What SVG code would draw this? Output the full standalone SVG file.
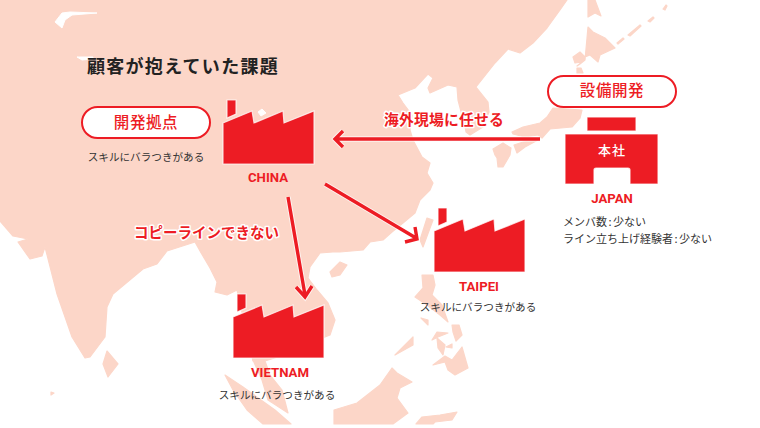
<svg xmlns="http://www.w3.org/2000/svg" xmlns:xlink="http://www.w3.org/1999/xlink" width="760" height="428" viewBox="0 0 760 428">
<style>
.land{fill:#fcd6c8;stroke:#fcd6c8;stroke-width:1.2;stroke-linejoin:round}
.sea{fill:#fff;stroke:#fff;stroke-width:1;stroke-linejoin:round}
.red{fill:#ed1c24;stroke:#fff;stroke-width:1.2;stroke-opacity:.75}
.ln{fill:none;stroke:#ed1c24;stroke-width:3.4}
.lh{fill:none;stroke:#fff;stroke-opacity:.7;stroke-width:5.4}
.pill{fill:#fff;stroke:#ed1c24;stroke-width:2}
text{font-family:"Noto Sans CJK JP","Noto Sans",sans-serif;text-anchor:middle}
.title{font-size:18px;font-weight:700;fill:#222;letter-spacing:1.3px}
.pt{font-size:15.5px;font-weight:500;fill:#ed1c24;letter-spacing:.6px}
.body{font-size:10.6px;fill:#333}
.info{font-size:11px;fill:#333;text-anchor:start}
.city{font-family:Roboto,"Liberation Sans",sans-serif;font-size:13.2px;font-weight:700;fill:#ed1c24}
.halo{font-weight:700;fill:#ed1c24;stroke:#fff;stroke-width:3;paint-order:stroke;stroke-linejoin:round}
</style>
<defs>
<g id="factory">
<path class="red" d="M4-46V-64H13V-50Z"/>
<path class="red" d="M0-41L29-53L31-41L60-53L61-41L91-53V0H0Z"/>
</g>
</defs>
<rect width="760" height="428" fill="#fff"/>
<g id="map">
<path class="land" d="M0 0H567L560 10L547 28L533 43L520 53L508 49L495 63L476 87L488 102L489 112L483 127L470 135L466 132L465 127L458 100L457 87L448 85L430 93L428 88L433 78L428 74L415 88L398 95L403 103L412 115L410 130L413 140L422 157L430 163L427 173L433 183L430 190L420 200L415 213L403 223L392 232L383 240L370 242L363 250L340 252L333 252L320 253L310 267L308 278L317 290L328 303L335 320L330 335L325 337L300 350L265 361L253 361L237 290L227 295L215 292L217 282L210 268L200 251L195 242L167 251L157 264L143 269L113 294L107 307L105 337L90 357L85 358L72 337L57 294L45 247L42 256L30 259L18 242L28 239L13 236L0 221Z"/>
<path class="land" d="M253 360L265 361L270 375L282 390L288 413L268 400L262 380ZM225 375L243 387L275 410L291 424H263L247 410L233 390ZM107 351L118 364L108 377L103 364ZM330 272L340 262L347 265L340 275L332 277ZM427 218L433 220L423 247L420 240ZM422 275L433 275L435 285L432 295L442 305L448 322L440 315L427 305L415 297L423 288ZM421 318L428 320L428 325ZM452 325L459 325L462 335L456 341L453 332ZM432 340L437 332L448 333L438 337ZM437 338L445 345L443 355L438 348ZM446 347L452 344L452 348ZM462 347L468 368L455 375L448 370L445 362L433 365L445 356L452 360ZM395 355L413 337V345ZM392 368L397 373L412 382L400 388L397 398L408 413L393 424H334V410L357 403L380 385ZM416 424L422 417L440 415L457 412L452 420L435 422L433 424ZM512 132L523 127L540 123L547 117L553 108L582 110L580 118L572 127L550 129L542 138L538 135L525 137L513 134ZM514 145L523 142L538 140L525 147L517 153ZM493 149L503 143L511 148L510 155L503 167L498 167L497 158L495 155ZM588 27L593 32L605 38L615 48L600 55L598 62L590 55L585 57L580 52L573 57L575 63L582 62L577 66L580 64L585 60ZM577 68L581 68L583 73L577 73ZM588 0H595L601 16L595 13L588 17ZM617 43L623 38L624 39L618 44ZM628 35L640 25L641 26L630 36ZM648 21L653 17L654 18L650 22ZM663 9L666 5L667 6L665 10ZM51 392l3 1-3 2z"/>
<path class="sea" d="M55 22L62 13L70 12L97 13L72 15L65 20L62 28ZM77 57H93V59L82 60ZM258 112L262 109L266 113L261 116Z"/>
</g>
<g id="connectors">
<path class="lh" d="M288 197L305 295M296 287L305 297L312 286"/>
<path class="lh" d="M325 184L416 238M405 242L417 239L415 227"/>
<path class="lh" d="M540 139H335M343 131L335 139L343 147"/>
<path class="ln" d="M540 139H335M343 131L335 139L343 147"/>
<path class="ln" d="M288 197L305 295M296 287L305 297L312 286"/>
<path class="ln" d="M325 184L416 238M405 242L417 239L415 227"/>
</g>
<text class="title" x="183" y="73">顧客が抱えていた課題</text>
<g id="china"><use xlink:href="#factory" href="#factory" x="223" y="164"/><text class="city" x="268" y="182">CHINA</text></g>
<g id="dev-base"><rect class="pill" x="82" y="107" width="128" height="31" rx="15.5"/><text class="pt" x="146" y="128">開発拠点</text><text class="body" x="146" y="161">スキルにバラつきがある</text></g>
<g id="equip"><rect class="pill" x="548" y="76" width="128" height="31" rx="15.5"/><text class="pt" x="612" y="96">設備開発</text></g>
<g id="japan">
<rect class="red" x="587" y="117" width="49" height="14"/>
<path class="red" d="M565 134H658V184H630V170Q630 168 628 168H596Q594 168 594 170V184H565Z"/>
<text x="612" y="155" font-size="13" font-weight="500" fill="#fff" letter-spacing="1">本社</text>
<text class="city" x="612" y="203">JAPAN</text>
<text class="info" x="563" y="226">メンバ数<tspan dx="1.5">:</tspan><tspan dx="1.5">少ない</tspan></text>
<text class="info" x="563" y="243">ライン立ち上げ経験者<tspan dx="1.5">:</tspan><tspan dx="1.5">少ない</tspan></text>
</g>
<g id="taipei"><use xlink:href="#factory" href="#factory" x="434" y="272"/><text class="city" x="479" y="291">TAIPEI</text><text class="body" x="478" y="311">スキルにバラつきがある</text></g>
<g id="vietnam"><use xlink:href="#factory" href="#factory" x="233" y="358"/><text class="city" x="280" y="377">VIETNAM</text><text class="body" x="277" y="399">スキルにバラつきがある</text></g>
<text class="halo" x="444" y="125" font-size="14.8" letter-spacing=".2">海外現場に任せる</text>
<text class="halo" x="206.500" y="238" font-size="14.5">コピーラインできない</text>
</svg>
